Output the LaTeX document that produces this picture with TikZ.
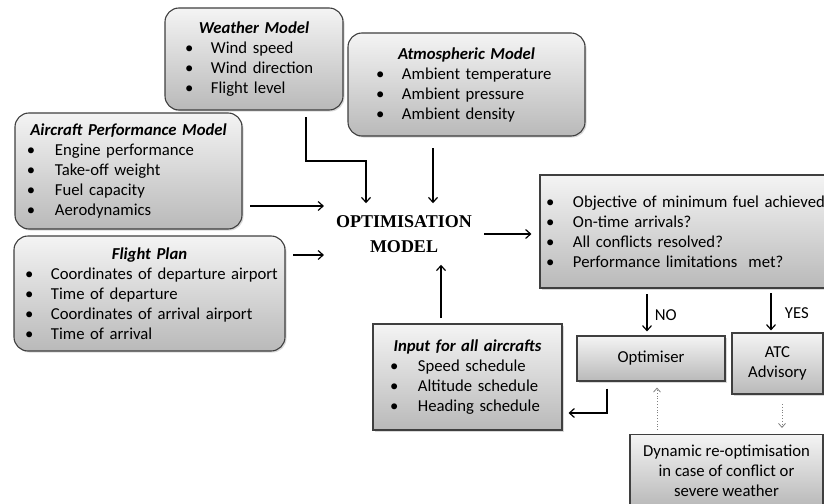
\documentclass[tikz,border=0pt]{standalone}
\usepackage{fontspec}
\setmainfont{Carlito}
\newfontfamily\headfont{Liberation Serif}
\usetikzlibrary{arrows.meta,positioning,calc,shadows}

\definecolor{boxtop}{HTML}{F4F4F4}
\definecolor{boxbot}{HTML}{B9B9B9}
\definecolor{boxedge}{HTML}{3F3F3F}

% title line and bullet line inside the boxes
\newcommand{\boxtitle}[1]{{\noindent\centering\textbf{\textit{#1}}\par}}
\newcommand{\bitem}[3]{\noindent\hspace*{#1}\makebox[#2][l]{\textbullet}#3\par}

\tikzset{
  rbox/.style={draw=boxedge, line width=1.1pt, rounded corners=14pt,
    top color=boxtop, bottom color=boxbot, inner sep=0pt,
    drop shadow={shadow xshift=1.5pt, shadow yshift=-1.5pt, opacity=0.3},
    font=\fontsize{16.7}{20}\selectfont},
  sbox/.style={rbox, sharp corners, align=center},
  arr/.style={-{Straight Barb[length=5pt,width=9pt]}, line width=1.2pt},
  dotarr/.style={-{Straight Barb[length=4pt,width=7pt]}, gray, dotted, line width=0.8pt},
}

\begin{document}
\begin{tikzpicture}[x=1pt,y=-1pt]
    \useasboundingbox (0,0) rectangle (824,503);

    % the four input models
    \node[rbox, minimum width=178pt, minimum height=102pt, text width=178pt] (weather) at (254,59)
      {\boxtitle{Weather Model}\bitem{20pt}{26pt}{Wind speed}\bitem{20pt}{26pt}{Wind direction}\bitem{20pt}{26pt}{Flight level}};
    \node[rbox, minimum width=237pt, minimum height=103pt, text width=237pt] (atmos) at (466.5,84.5)
      {\boxtitle{Atmospheric Model}\bitem{28pt}{26pt}{Ambient temperature}\bitem{28pt}{26pt}{Ambient pressure}\bitem{28pt}{26pt}{Ambient density}};
    \node[rbox, minimum width=227pt, minimum height=116pt, text width=227pt] (aircraft) at (128.5,171)
      {\boxtitle{Aircraft Performance Model}\bitem{12pt}{28pt}{Engine performance}\bitem{12pt}{28pt}{Take-off weight}\bitem{12pt}{28pt}{Fuel capacity}\bitem{12pt}{28pt}{Aerodynamics}};
    \node[rbox, minimum width=271pt, minimum height=115pt, text width=271pt] (flightplan) at (149.5,293.5)
      {\boxtitle{Flight Plan}\bitem{11pt}{26pt}{Coordinates of departure airport}\bitem{11pt}{26pt}{Time of departure}\bitem{11pt}{26pt}{Coordinates of arrival airport}\bitem{11pt}{26pt}{Time of arrival}};

    % model in the middle
    \node[font=\headfont\bfseries\fontsize{18}{25}\selectfont, align=center,
      inner xsep=12pt, inner ysep=12pt] (optmodel) at (404,234) {OPTIMISATION\\MODEL};

    % checks and outcomes
    \node[rbox, sharp corners, minimum width=300pt, minimum height=113pt, text width=300pt] (objective) at (690,231.5)
      {\bitem{6pt}{27pt}{Objective of minimum fuel achieved?}\bitem{6pt}{27pt}{On-time arrivals?}\bitem{6pt}{27pt}{All conflicts resolved?}\bitem{6pt}{27pt}{Performance limitations~ met?}};
    \node[rbox, sharp corners, minimum width=189pt, minimum height=106pt, text width=189pt] (input) at (467.5,377)
      {\boxtitle{Input for all aircrafts}\bitem{17pt}{28pt}{Speed schedule}\bitem{17pt}{28pt}{Altitude schedule}\bitem{17pt}{28pt}{Heading schedule}};
    \node[sbox, minimum width=148pt, minimum height=45pt] (optimiser) at (651,358.5) {Optimiser};
    \node[sbox, minimum width=91pt, minimum height=61pt] (atc) at (777.5,363.5) {ATC\\Advisory};
    \node[sbox, minimum width=193pt, minimum height=72pt] (dynamic) at (726.5,470.5)
      {Dynamic re-optimisation\\in case of conflict or\\severe weather};

    % arrows into the model
    \coordinate (wout) at (306,117);
    \coordinate (wbend) at (366,161);
    \draw[arr] (wout) |- (wbend) -- (wbend |- optmodel.north);
    \coordinate (atmout) at (433,148);
    \draw[arr] (atmout) -- (atmout |- optmodel.north);
    \coordinate (acout) at (250,206);
    \draw[arr] (acout) -- (acout -| optmodel.west);
    \coordinate (fpout) at (293,255);
    \draw[arr] (fpout) -- (fpout -| optmodel.west);
    \coordinate (inout) at (441,318);
    \draw[arr] (inout) -- (inout |- optmodel.south);

    % arrows out of the model
    \draw[arr, shorten >=8pt] (optmodel.east) -- (optmodel.east -| objective.west);
    \coordinate (nofrom) at (647,294);
    \draw[arr, shorten >=4pt] (nofrom) -- (nofrom |- optimiser.north) node[midway, right=4pt, font=\fontsize{16.7}{20}\selectfont] {NO};
    \coordinate (yesfrom) at (771,293);
    \draw[arr, shorten >=2pt] (yesfrom) -- (yesfrom |- atc.north) node[midway, right=10pt, font=\fontsize{16.7}{20}\selectfont] {YES};
    \coordinate (obend) at (607,413);
    \draw[arr, shorten >=6pt] (obend |- optimiser.south) ++(0,7) -- (obend) -- (obend -| input.east);

    % dotted feedback
    \coordinate (dynup) at (657,430);
    \draw[dotarr, shorten >=6pt] (dynup) -- (dynup |- optimiser.south);
    \coordinate (atcdown) at (782,404);
    \draw[dotarr, shorten >=6pt] (atcdown) -- (atcdown |- dynamic.north);
\end{tikzpicture}
\end{document}
